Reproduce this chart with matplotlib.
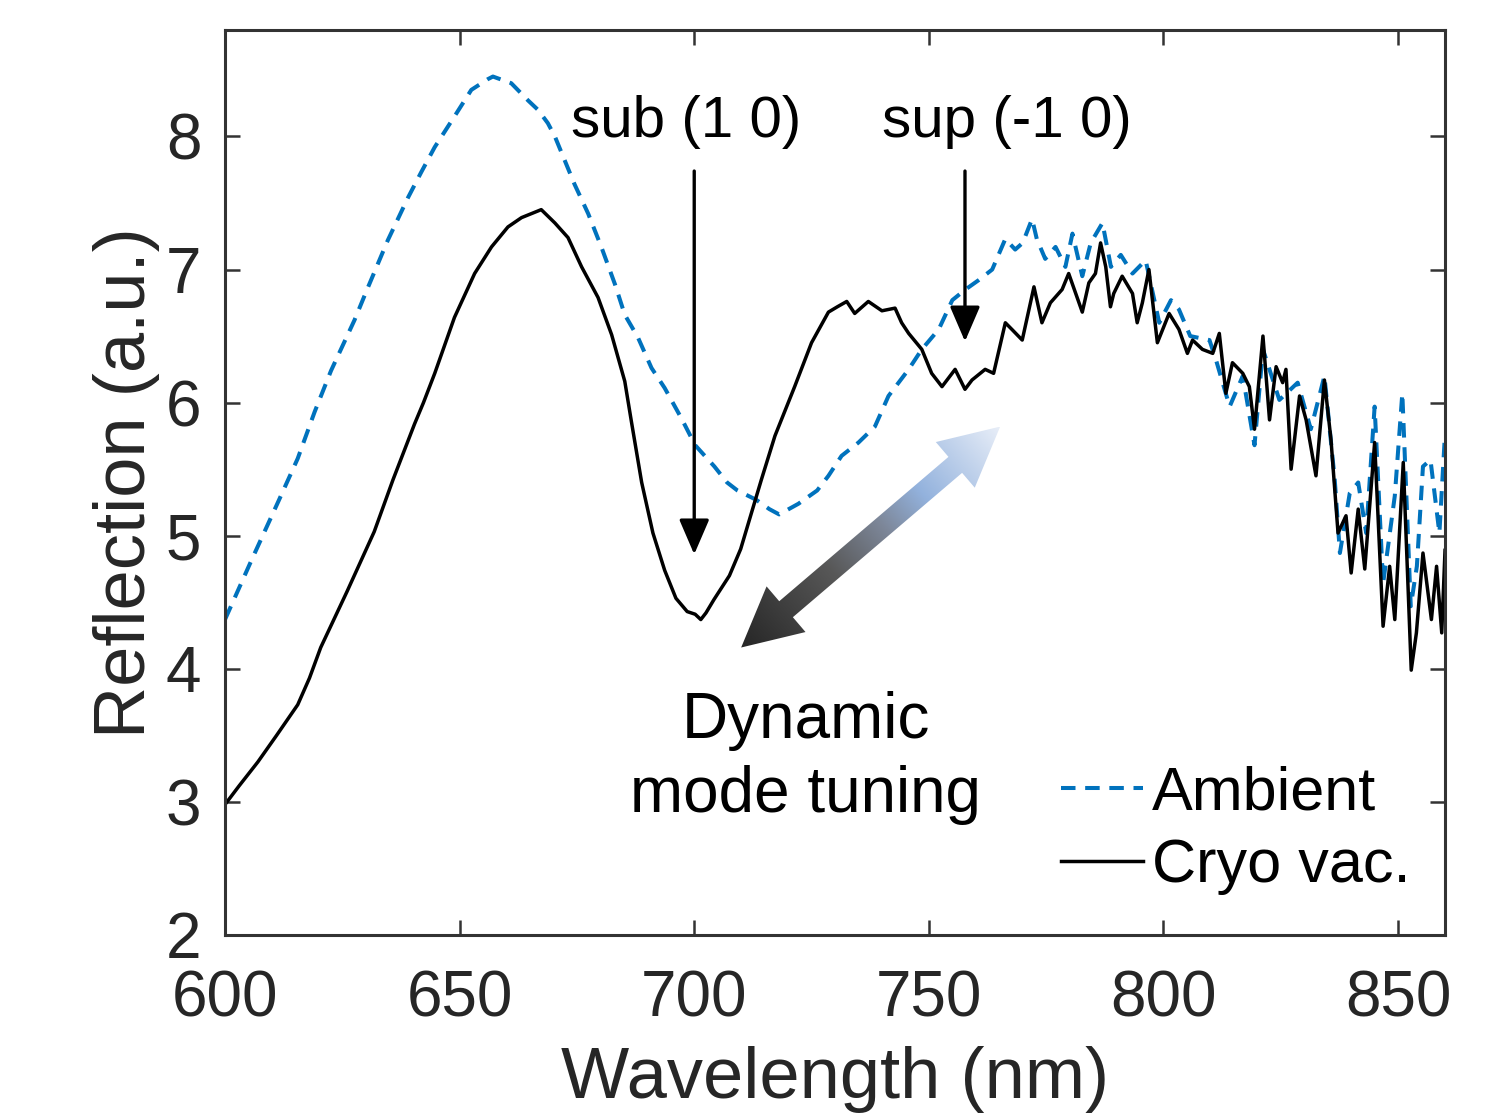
import numpy as np
import matplotlib
matplotlib.use('Agg')
import matplotlib.pyplot as plt
from matplotlib.patches import Polygon
from matplotlib.colors import LinearSegmentedColormap

plt.rcParams['font.family'] = ['Liberation Sans', 'DejaVu Sans']

# Cryo vac. spectrum
cryo_wl = [600, 603, 607, 611, 615.5, 618, 620.4, 626, 631.8, 635.8, 640.4, 642.3, 644.7,
           648.9, 653.2, 656.8, 660.3, 663.2, 667.4, 670.3, 673.1, 676.0, 679.5, 682.4,
           685.2, 686.6, 688.8, 691.2, 693.7, 696.1, 698.5, 700.2, 701.4, 702.5, 704.2,
           707.5, 709.9, 713.2, 714.3, 717.2, 721.4, 725, 728.6, 730.5, 732.5, 734.2,
           737.1, 740, 742.8, 744.2, 745.7, 748.5, 750.6, 752.8, 755.6, 757.7, 759.2,
           762, 763.8, 766.3, 767.7, 769.9, 772.4, 774.1, 775.9, 778.4, 779.8, 781.5,
           782.7, 784.1, 785.5, 786.6, 787.7, 788.7, 789.4, 791.2, 793.4, 794.4, 795.5,
           796.9, 798.7, 801.2, 803.3, 805.1, 806.2, 808.3, 810.5, 811.9, 813.3, 814.7,
           816.9, 818.3, 819.4, 821.2, 822.6, 824, 825.4, 826.1, 827.2, 829, 830.4,
           832.5, 834.3, 835.7, 837.2, 838.9, 840, 841.5, 842.9, 845, 846.8, 848.2,
           849.3, 851.1, 852.8, 853.9, 855.3, 857.1, 858.2, 859.3, 860]
cryo_r = [2.98, 3.12, 3.30, 3.50, 3.73, 3.93, 4.16, 4.58, 5.03, 5.42, 5.84, 6.00, 6.22,
          6.64, 6.97, 7.17, 7.32, 7.39, 7.45, 7.35, 7.24, 7.02, 6.79, 6.51,
          6.16, 5.86, 5.40, 5.02, 4.74, 4.53, 4.43, 4.41, 4.37, 4.42, 4.52,
          4.70, 4.90, 5.29, 5.42, 5.75, 6.12, 6.45, 6.68, 6.72, 6.76, 6.67,
          6.76, 6.69, 6.71, 6.60, 6.52, 6.40, 6.22, 6.12, 6.25, 6.10, 6.17,
          6.25, 6.22, 6.60, 6.55, 6.47, 6.87, 6.60, 6.75, 6.85, 6.97, 6.80,
          6.68, 6.90, 6.97, 7.20, 7.02, 6.72, 6.82, 6.95, 6.82, 6.60, 6.75,
          7.00, 6.45, 6.67, 6.55, 6.37, 6.47, 6.40, 6.37, 6.52, 6.07, 6.30,
          6.22, 6.12, 5.80, 6.50, 5.87, 6.27, 6.15, 6.25, 5.50, 6.05, 5.87,
          5.45, 6.17, 5.72, 5.02, 5.15, 4.72, 5.20, 4.75, 5.70, 4.32, 4.77,
          4.37, 5.55, 3.99, 4.27, 4.87, 4.37, 4.77, 4.27, 4.89]

# Ambient spectrum
amb_wl = [600, 605.7, 611.4, 615.5, 619.1, 622.6, 627.6, 630.4, 634.7, 639.0, 641.8,
          644.7, 648.9, 652.5, 656.0, 657.1, 661.0, 664.6, 666.7, 668.8, 670.3, 672.4,
          674.5, 677.4, 680.2, 683.1, 685.2, 688.0, 690.9, 693.7, 697.3, 700.2, 704.3,
          707, 709.2, 713.2, 716, 718.1, 722.2, 726.2, 728.6, 731.4, 735, 738.5, 741.4,
          745.7, 748.5, 752.1, 755, 757.8, 760.6, 763.5, 766.3, 768.4, 770, 772, 773,
          774.8, 777, 779.1, 780.6, 782.7, 784.5, 787, 788.8, 790.9, 793.4, 796.2,
          799.1, 801.6, 803.3, 805.7, 809.8, 811.2, 814.1, 816.9, 819.4, 821.2, 824.7,
          828.6, 831.4, 834.3, 836.5, 837.6, 839.7, 841.5, 843.2, 845, 846.8, 849.3,
          850.9, 852.7, 854, 855.3, 856.9, 858.8, 860]
amb_r = [4.37, 4.82, 5.26, 5.58, 5.93, 6.24, 6.62, 6.86, 7.22, 7.54, 7.73,
         7.92, 8.15, 8.35, 8.43, 8.45, 8.40, 8.27, 8.20, 8.10, 8.00, 7.82,
         7.64, 7.42, 7.17, 6.89, 6.66, 6.49, 6.26, 6.11, 5.88, 5.68, 5.52,
         5.40, 5.34, 5.27, 5.20, 5.16, 5.24, 5.34, 5.45, 5.60, 5.70, 5.82, 6.05,
         6.25, 6.40, 6.55, 6.77, 6.85, 6.92, 7.00, 7.23, 7.15, 7.20, 7.38, 7.23,
         7.08, 7.17, 7.02, 7.27, 6.95, 7.20, 7.35, 7.02, 7.11, 6.97, 7.07,
         6.60, 6.77, 6.70, 6.50, 6.47, 6.32, 5.97, 6.20, 5.68, 6.40, 6.02,
         6.15, 5.80, 6.20, 5.42, 4.87, 5.32, 5.40, 5.02, 5.97, 4.64, 5.30,
         6.07, 4.47, 4.77, 5.52, 5.57, 5.02, 5.77]

W, H = 1512, 1118
fig = plt.figure(figsize=(W / 100, H / 100), dpi=100)
ax = fig.add_axes([0.1488, 0.1637, 0.9557 - 0.1488, 0.9732 - 0.1637])

ax.plot(amb_wl, amb_r, color='#0072BD', lw=2.9, dashes=(3.6, 2.4), label='Ambient')
ax.plot(cryo_wl, cryo_r, color='black', lw=2.5, label='Cryo vac.')

ax.set_xlim(600, 860)
ax.set_ylim(2, 8.8)
ax.set_xticks([600, 650, 700, 750, 800, 850])
ax.set_yticks([2, 3, 4, 5, 6, 7, 8])
ax.tick_params(direction='in', length=11, width=1.8, colors='#333333',
               labelsize=46, top=True, right=True)
ax.tick_params(axis='x', pad=25)
ax.tick_params(axis='y', pad=17)
for tl in ax.get_xticklabels() + ax.get_yticklabels():
    tl.set_color('#262626')
for sp in ax.spines.values():
    sp.set_linewidth(2.2)
    sp.set_color('#333333')

ax.set_xlabel('Wavelength (nm)', fontsize=52, color='#262626', labelpad=12)
ax.set_ylabel('Reflection (a.u.)', fontsize=52, color='#262626', labelpad=4)

# mode arrows and labels
arr = dict(arrowstyle='-|>,head_length=0.72,head_width=0.31', lw=2.4, color='black',
           mutation_scale=30, shrinkA=0, shrinkB=0)
ax.annotate('', xy=(700, 4.86), xytext=(700, 7.74), arrowprops=arr)
ax.annotate('', xy=(757.7, 6.46), xytext=(757.7, 7.74), arrowprops=arr)
ax.text(698.3, 8.11, 'sub (1 0)', fontsize=42, ha='center', va='center')
ax.text(766.7, 8.11, 'sup (-1 0)', fontsize=42, ha='center', va='center')
ax.text(723.7, 3.33, 'Dynamic\nmode tuning', fontsize=46, ha='center', va='center',
        linespacing=1.3)

ax.legend(loc='upper left', bbox_to_anchor=(0.685, 0.187), frameon=False, fontsize=44,
          handlelength=1.35, handletextpad=0.15, borderpad=0, borderaxespad=0,
          labelspacing=0.25)

# gradient double arrow, drawn in pixel space on an overlay axes
ov = fig.add_axes([0, 0, 1, 1])
ov.set_xlim(0, W)
ov.set_ylim(0, H)
ov.axis('off')
A = ax.transData.transform((710.0, 4.16))
B = ax.transData.transform((765.2, 5.82))
u = (B - A) / np.linalg.norm(B - A)
n = np.array([-u[1], u[0]])
h, hw, sw = 59, 30, 10.5
pts = [A, A + h * u + hw * n, A + h * u + sw * n, B - h * u + sw * n, B - h * u + hw * n,
       B, B - h * u - hw * n, B - h * u - sw * n, A + h * u - sw * n, A + h * u - hw * n]
pts = np.array(pts)
poly = Polygon(pts, closed=True, facecolor='none', edgecolor='none')
ov.add_patch(poly)
x0, y0 = pts.min(axis=0)
x1, y1 = pts.max(axis=0)
gx, gy = np.meshgrid(np.linspace(x0, x1, 300), np.linspace(y0, y1, 300))
t = ((gx - A[0]) * u[0] + (gy - A[1]) * u[1]) / np.linalg.norm(B - A)
cmap = LinearSegmentedColormap.from_list('tune', [(0, '#262626'), (0.35, '#585858'),
                                                  (0.55, '#7d8799'), (0.7, '#93b2dd'),
                                                  (1.0, '#e8eef8')])
im = ov.imshow(t, extent=(x0, x1, y0, y1), origin='lower', cmap=cmap, vmin=0, vmax=1,
               aspect='auto', interpolation='bilinear')
im.set_clip_path(poly)

fig.savefig('out.png', dpi=100)
